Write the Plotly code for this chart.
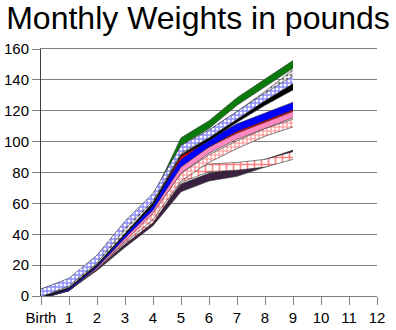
import plotly.graph_objects as go

months = list(range(10))
tick_vals = list(range(13))
tick_text = ["Birth"] + [str(i) for i in range(1, 13)]

# series (center values, pounds), drawn back to front
green     = [1, 6, 21, 40, 62, 100, 111, 126, 138, 150]
purple    = [1, 6, 19, 34, 48, 70, 77, 80, 86, 92]
red_dots  = [1, 6, 20, 36, 50, 76, 83, 84, 86, 91]
red_check = [1, 6, 20, 37, 52, 77, 89, 98, 106, 112]
pink      = [1, 6, 20, 38, 56, 82, 95, 104, 111, 118]
red       = [1, 6, 21, 40, 59, 89, 99, 108, 115, 122]
blue      = [1, 6, 21, 40, 58, 86, 99, 109, 116, 123]
black     = [1, 7, 22, 42, 61, 93, 103, 115, 126, 136]
wb_dots   = [2, 8, 23, 43, 63, 94, 105, 117, 130, 144]
blue_check= [2, 9, 24, 46, 64, 95, 105, 117, 129, 140]

series = [
    ("green", green, "#0a7a0a", None),
    ("purple", purple, "#3a2140", None),
    ("red dots", red_dots, "white", dict(shape="+", fgcolor="red", bgcolor="white", size=7, solidity=0.4)),
    ("red check", red_check, "white", dict(shape="+", fgcolor="#ff2020", bgcolor="white", size=4, solidity=0.5)),
    ("pink", pink, "#ff88c0", None),
    ("red", red, "#ee0000", None),
    ("blue", blue, "#0000ff", None),
    ("black", black, "#000000", None),
    ("wb dots", wb_dots, "white", dict(shape=".", fgcolor="black", bgcolor="white", size=4, solidity=0.45)),
    ("blue check", blue_check, "white", dict(shape="+", fgcolor="#1a1aff", bgcolor="white", size=4, solidity=0.6)),
]

half = 2.5
fig = go.Figure()
for name, vals, col, pat in series:
    lower = [v - half for v in vals]
    upper = [v + half for v in vals]
    fig.add_trace(go.Scatter(x=months, y=lower, mode="lines",
                             line=dict(color="#333333", width=0.6),
                             showlegend=False, hoverinfo="skip"))
    kw = dict(fill="tonexty", fillcolor=col)
    if pat is not None:
        kw["fillpattern"] = pat
    fig.add_trace(go.Scatter(x=months, y=upper, mode="lines", name=name,
                             line=dict(color="#333333", width=0.6),
                             showlegend=False, **kw))

fig.update_layout(
    width=396, height=330,
    margin=dict(l=41, r=19, t=49, b=34),
    paper_bgcolor="white", plot_bgcolor="white",
    font=dict(family="Liberation Sans, Arial, sans-serif", color="black", size=15),
    title=dict(text="Monthly Weights in pounds", x=0.5, xanchor="center",
               y=0.945, yanchor="middle", yref="container",
               font=dict(size=32, color="black")),
    showlegend=False,
)
fig.update_xaxes(range=[0, 12], tickmode="array", tickvals=tick_vals, ticktext=tick_text,
                 showgrid=False, zeroline=False, showline=True, linecolor="#808080",
                 mirror=True, ticks="outside", ticklen=8, tickcolor="#808080",
                 tickfont=dict(size=15), automargin=False)
fig.update_yaxes(range=[0, 160], dtick=20, showgrid=True, gridcolor="#808080", gridwidth=1,
                 zeroline=False, showline=True, linecolor="#404040",
                 ticks="outside", ticklen=8, tickcolor="#808080",
                 tickfont=dict(size=15), automargin=False)

fig.write_html("out.html")
